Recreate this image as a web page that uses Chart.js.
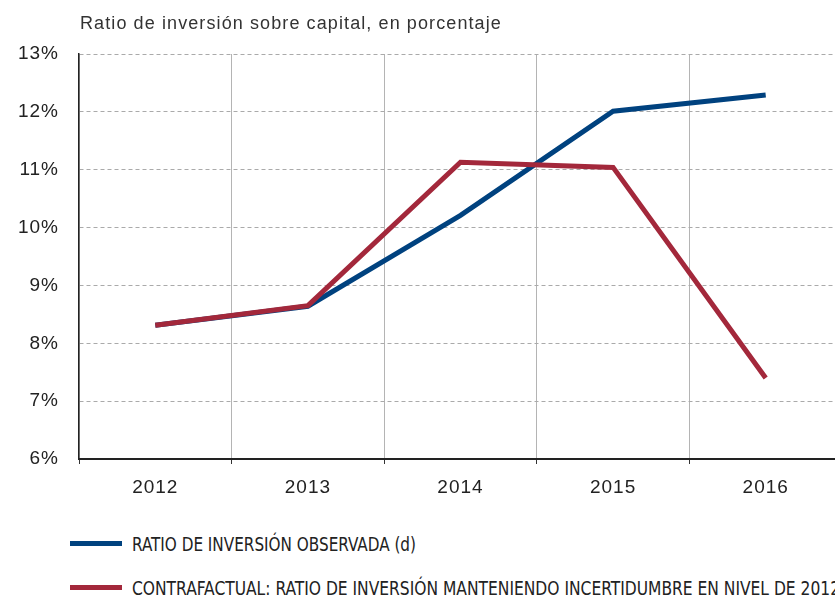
<!DOCTYPE html>
<html lang="es">
<head>
  <meta charset="UTF-8">
  <title>Ratio de inversión sobre capital</title>
  <script src="https://cdn.jsdelivr.net/npm/chart.js"></script>
  <style>
    body { margin: 0; overflow: hidden; background: #fff; font-family: "Liberation Sans", Arial, sans-serif; }
    #title { position: absolute; left: 80px; top: 14px; font-size: 18px; line-height: 18px; letter-spacing: 1.1px; color: #333; }
    #box { position: absolute; left: 0; top: 0; width: 845px; height: 505px; }
    .leg { position: absolute; left: 70px; height: 20px; white-space: nowrap; }
    .leg .sw { position: absolute; left: 0; top: 7px; width: 52px; height: 5px; }
    .leg .txt { position: absolute; left: 62px; top: 0; font-family: "DejaVu Sans Condensed", "Liberation Sans Narrow", sans-serif;
                font-size: 19px; line-height: 20px; color: #222; transform-origin: 0 50%; display: inline-block; }
  </style>
</head>
<body>
  <div id="box"><canvas id="invChart"></canvas></div>
  <div id="title">Ratio de inversión sobre capital, en porcentaje</div>
  <div class="leg" style="top:534px"><div class="sw" style="background:#00427f"></div><span class="txt" data-w="284">RATIO DE INVERSIÓN OBSERVADA (d)</span></div>
  <div class="leg" style="top:578px"><div class="sw" style="background:#a3283b"></div><span class="txt" data-w="708">CONTRAFACTUAL: RATIO DE INVERSIÓN MANTENIENDO INCERTIDUMBRE EN NIVEL DE 2012</span></div>

  <script>
    const years = ['2012', '2013', '2014', '2015', '2016'];
    const observada = [8.31, 8.64, 10.21, 12.01, 12.29];
    const contrafactual = [8.31, 8.65, 11.13, 11.04, 7.40];

    // squeeze the legend text to a condensed look like the original
    document.querySelectorAll('.leg .txt').forEach(t => {
      const k = Number(t.dataset.w) / t.getBoundingClientRect().width;
      t.style.transform = 'scaleX(' + k + ')';
    });

    const spacing = {
      id: 'spacing',
      beforeDraw: (chart) => { chart.ctx.letterSpacing = '1px'; },
    };

    const ctx = document.getElementById('invChart').getContext('2d');
    new Chart(ctx, {
      type: 'line',
      data: {
        labels: years,
        datasets: [
          {
            label: 'RATIO DE INVERSIÓN OBSERVADA (d)',
            data: observada,
            borderColor: '#00427f',
            borderWidth: 5,
            pointRadius: 0,
            tension: 0,
            fill: false,
            order: 1,
          },
          {
            label: 'CONTRAFACTUAL: RATIO DE INVERSIÓN MANTENIENDO INCERTIDUMBRE EN NIVEL DE 2012',
            data: contrafactual,
            borderColor: '#a3283b',
            borderWidth: 5,
            pointRadius: 0,
            tension: 0,
            fill: false,
            order: 0,
          },
        ],
      },
      plugins: [spacing],
      options: {
        responsive: true,
        maintainAspectRatio: false,
        animation: false,
        layout: { padding: { top: 54, right: 3, left: 0, bottom: 0 } },
        plugins: { legend: { display: false }, tooltip: { enabled: false } },
        scales: {
          x: {
            offset: true,
            grid: { offset: true, color: '#b4b4b4', lineWidth: 1, drawTicks: true, tickLength: 5, tickColor: '#333' },
            border: { color: '#222', width: 2 },
            ticks: { color: '#222', font: { family: 'Liberation Sans', size: 19 }, padding: 12, maxRotation: 0 },
            afterFit: (scale) => { scale.height = 46; },
          },
          y: {
            min: 6,
            max: 13,
            ticks: {
              stepSize: 1,
              color: '#222',
              font: { family: 'Liberation Sans', size: 19 },
              padding: 20,
              callback: (v) => v + '%',
            },
            grid: { color: '#aaa', lineWidth: 1, drawTicks: false },
            border: { color: '#222', width: 1.5, dash: [4, 3] },
            afterFit: (scale) => { scale.width = 79; },
          },
        },
      },
    });
  </script>
</body>
</html>
